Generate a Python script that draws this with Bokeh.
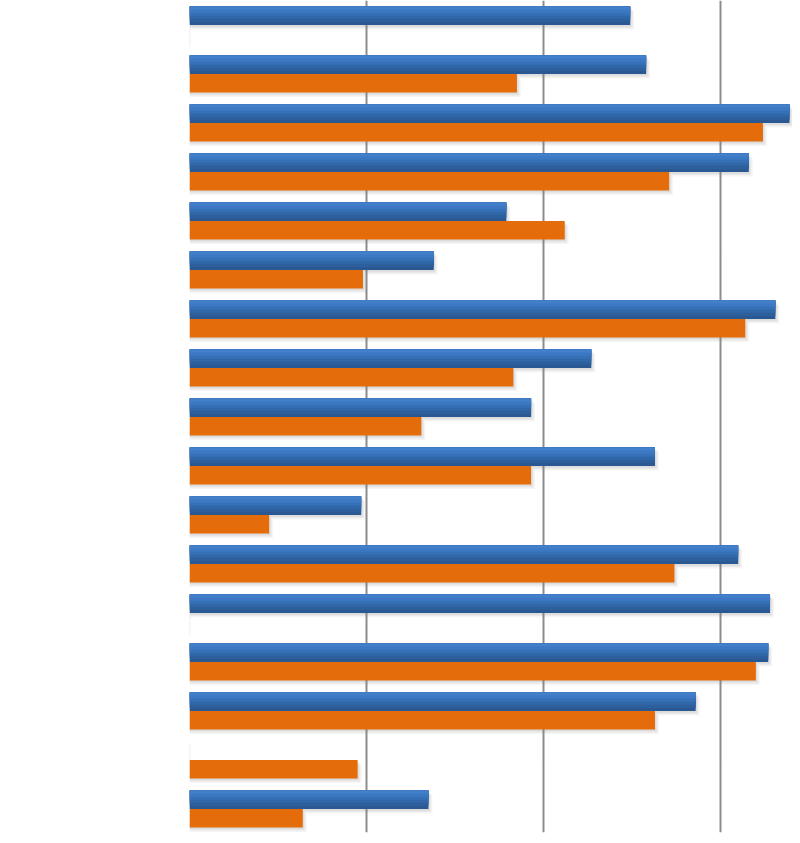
from bokeh.plotting import figure
from bokeh.models import Range1d, FixedTicker
from bokeh.embed import file_html
from bokeh.resources import INLINE

# Data (17 category groups, top to bottom)
groups = list(range(17))
series_blue = [2.49, 2.58, 3.39, 3.16, 1.79, 1.38, 3.31, 2.27, 1.93, 2.63, 0.97, 3.10, 3.28, 3.27, 2.86, 0.0, 1.35]
series_orange = [0.0, 1.85, 3.24, 2.71, 2.12, 0.98, 3.14, 1.83, 1.31, 1.93, 0.45, 2.74, 0.0, 3.20, 2.63, 0.95, 0.64]
grid_ticks = [1, 2, 3]

p = figure(width=792, height=835, output_backend="svg", toolbar_location=None,
           x_range=Range1d(0, 3.407), y_range=Range1d(16.48, -0.5),
           min_border_left=189, min_border_right=0, min_border_top=0, min_border_bottom=3)
p.outline_line_color = None
p.xaxis.visible = False
p.yaxis.visible = False
p.ygrid.visible = False
p.xgrid.ticker = FixedTicker(ticks=grid_ticks)
p.xgrid.grid_line_color = "#8c8c8c"
p.xgrid.grid_line_width = 2

bh = 0.378
blue_c = [g - bh / 2 for g in groups]
orange_c = [g + bh / 2 for g in groups]

# soft shadows
for dx, dy, a in [(0.022, 0.09, 0.08), (0.014, 0.06, 0.10), (0.007, 0.035, 0.12)]:
    p.hbar(y=[c + dy for c in blue_c], right=[v + dx if v > 0 else 0.004 for v in series_blue],
           left=0, height=bh, fill_color="#808080", fill_alpha=a, line_color=None)
    p.hbar(y=[c + dy for c in orange_c], right=[v + dx if v > 0 else 0.004 for v in series_orange],
           left=0, height=bh, fill_color="#808080", fill_alpha=a, line_color=None)

# orange bars
p.hbar(y=orange_c, right=series_orange, left=0, height=bh, fill_color="#e46c0a", line_color=None)

# blue bars with vertical gradient: nested layers anchored at the top
blue_shades = ["#295893", "#2c5f9c", "#3067a9", "#3670b6", "#3d78c2", "#4380cc"]  # dark (bottom) -> light (top)
n = len(blue_shades)
for i, col in enumerate(blue_shades):
    h = bh * (n - i) / n
    p.hbar(y=[c - bh / 2 + h / 2 for c in blue_c], right=series_blue, left=0, height=h,
           fill_color=col, line_color=None)

open("out.html", "w").write(file_html(p, INLINE))
